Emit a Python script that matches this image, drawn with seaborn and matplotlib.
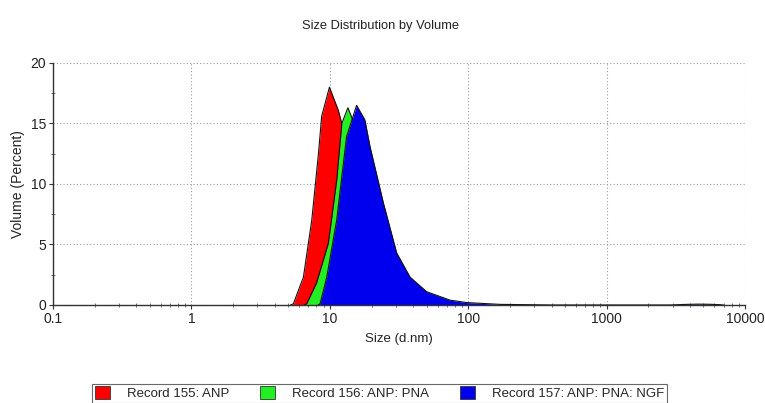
import numpy as np
import pandas as pd
import matplotlib
matplotlib.use("Agg")
import matplotlib.pyplot as plt
from matplotlib.patches import Patch
from matplotlib.ticker import LogLocator, FixedLocator, MultipleLocator
import seaborn as sns

# ---- data ----
series_names = ["Record 155: ANP", "Record 156: ANP: PNA", "Record 157: ANP: PNA: NGF"]
series_colors = ["#ff0000", "#22ee22", "#0000ee"]

size_155 = [5.2, 5.45, 6.44, 7.40, 8.27, 8.73, 9.93, 11.5, 12.0, 13.0, 15.0, 18.0, 22.0, 27.0, 33.0, 40.0, 50.0]
vol_155 = [0.0, 0.1, 2.3, 7.0, 12.5, 15.6, 18.0, 16.1, 15.3, 13.5, 10.5, 6.8, 3.8, 1.9, 0.8, 0.2, 0.0]

size_156 = [6.5, 6.8, 8.0, 9.75, 11.2, 12.2, 13.5, 15.0, 17.5, 21.0, 25.0, 31.0, 38.0, 50.0, 70.0]
vol_156 = [0.0, 0.1, 1.8, 5.1, 10.3, 15.0, 16.3, 15.0, 12.0, 8.0, 5.0, 2.5, 1.0, 0.3, 0.0]

size_157 = [8.2, 8.5, 9.5, 11.2, 13.2, 15.6, 17.9, 19.5, 24.4, 30.4, 38.0, 50.0, 73.8, 97.5, 170.0, 250.0, 400.0,
            2900.0, 3500.0, 4500.0, 5500.0, 6500.0, 7000.0]
vol_157 = [0.0, 0.1, 2.3, 7.0, 13.9, 16.5, 15.3, 13.1, 8.4, 4.3, 2.3, 1.1, 0.4, 0.2, 0.05, 0.03, 0.0,
           0.0, 0.04, 0.07, 0.06, 0.03, 0.0]

x_tick_values = [0.1, 1, 10, 100, 1000, 10000]
x_tick_labels = ["0.1", "1", "10", "100", "1000", "10000"]
y_tick_values = [0, 5, 10, 15, 20]

sizes = [size_155, size_156, size_157]
vols = [vol_155, vol_156, vol_157]

frames = []
for name, s, v in zip(series_names, sizes, vols):
    frames.append(pd.DataFrame({"Size": s, "Volume": v, "Record": name}))
df = pd.concat(frames, ignore_index=True)

# ---- plot ----
sns.set_style("white")
plt.rcParams["font.family"] = ["Liberation Sans", "DejaVu Sans"]

fig = plt.figure(figsize=(7.65, 4.03), dpi=100)
ax = fig.add_axes([0.0693, 0.2432, 0.9047, 0.6005])

for i, (name, color) in enumerate(zip(series_names, series_colors)):
    sub = df[df["Record"] == name]
    ax.fill_between(sub["Size"], 0, sub["Volume"], color=color, linewidth=0, zorder=2 + 2 * i)
    sns.lineplot(data=sub, x="Size", y="Volume", ax=ax, color="#111111",
                 linewidth=0.8, sort=False, estimator=None, legend=False, zorder=2.5 + 2 * i)

ax.set_xscale("log")
ax.set_xlim(0.1, 10000)
ax.set_ylim(0, 20)
ax.xaxis.set_major_locator(FixedLocator(x_tick_values))
ax.set_xticklabels(x_tick_labels)
ax.xaxis.set_minor_locator(LogLocator(base=10, subs=(2, 3, 4, 5, 6, 7, 8, 9), numticks=20))
ax.yaxis.set_major_locator(FixedLocator(y_tick_values))
ax.yaxis.set_minor_locator(MultipleLocator(2.5))

ax.grid(True, which="major", linestyle=(0, (1, 2)), color="#999999", linewidth=0.8)
ax.set_axisbelow(True)
for sp in ["top", "right"]:
    ax.spines[sp].set_visible(False)
for sp in ["left", "bottom"]:
    ax.spines[sp].set_color("#333333")
    ax.spines[sp].set_linewidth(1.0)
    ax.spines[sp].set_zorder(10)

ax.tick_params(axis="both", which="major", direction="out", length=3, width=0.8,
               color="#333333", labelsize=10, labelcolor="#222222", pad=2, left=True, bottom=True)
ax.tick_params(axis="both", which="minor", direction="inout", length=3, width=0.6,
               color="#555555", left=True, bottom=True)

ax.set_xlabel("Size (d.nm)", fontsize=9.5, color="#222222", labelpad=5)
ax.set_ylabel("Volume (Percent)", fontsize=10, color="#222222")
ax.yaxis.set_label_coords(-0.040, 0.5)
fig.text(0.497, 0.935, "Size Distribution by Volume", ha="center", va="center",
         fontsize=9.3, color="#222222")

handles = [Patch(facecolor=c, edgecolor="#333333", linewidth=0.6) for c in series_colors]
leg = fig.legend(handles, series_names, loc="upper center", bbox_to_anchor=(0.496, 0.048),
                 ncol=3, frameon=True, fancybox=False, fontsize=9.5, handlelength=1.15,
                 handleheight=1.15, columnspacing=2.3, borderpad=0.2, handletextpad=1.3,
                 borderaxespad=0)
leg.get_frame().set_edgecolor("#444444")
leg.get_frame().set_linewidth(0.8)

fig.savefig("out.png", dpi=100)
